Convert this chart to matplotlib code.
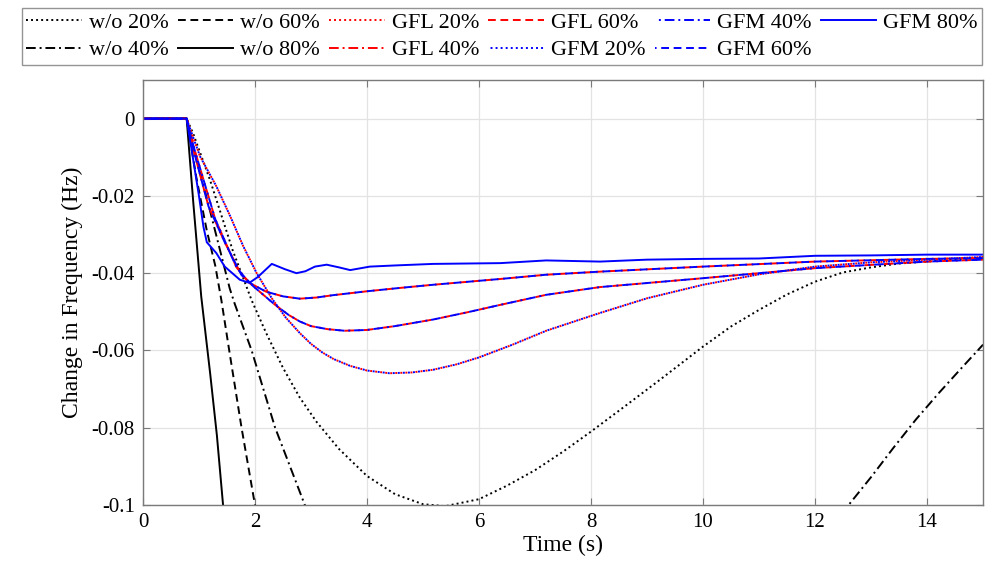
import numpy as np
import matplotlib.pyplot as plt

# time (s) / frequency change (Hz)
t_wo20 = [0, 0.78, 0.9, 1.2, 1.6, 1.94, 2.2, 2.5, 2.8, 3.1, 3.5, 4.0, 4.5, 5.0, 5.4, 6.0, 6.5, 7.0, 7.5, 8.0, 8.6, 9.23, 10.0, 10.5, 11.0, 11.5, 12.0, 12.5, 13.0, 13.5, 14.0, 15.0]
f_wo20 = [0, 0, -0.004, -0.016, -0.034, -0.047, -0.0555, -0.0645, -0.0722, -0.0785, -0.0855, -0.0925, -0.0972, -0.0998, -0.1003, -0.0985, -0.095, -0.091, -0.0862, -0.081, -0.0745, -0.0676, -0.059, -0.0538, -0.0495, -0.0455, -0.0422, -0.0398, -0.0385, -0.0375, -0.037, -0.036]

t_wo40 = [0, 0.78, 1.0, 1.2, 1.34, 1.55, 1.64, 1.94, 2.36, 2.89, 3.5, 4.5, 6.0, 8.0, 10.0, 11.5, 12.0, 12.6, 13.0, 13.4, 13.8, 14.2, 14.6, 15.0]
f_wo40 = [0, 0, -0.013, -0.024, -0.032, -0.044, -0.048, -0.060, -0.080, -0.100, -0.118, -0.135, -0.145, -0.142, -0.130, -0.115, -0.1085, -0.100, -0.0928, -0.0852, -0.0779, -0.0712, -0.0648, -0.0585]

t_wo60 = [0, 0.78, 0.95, 1.14, 1.29, 1.40, 1.54, 1.76, 2.0, 2.2]
f_wo60 = [0, 0, -0.015, -0.029, -0.038, -0.047, -0.060, -0.080, -0.100, -0.115]

t_wo80 = [0, 0.78, 0.9, 1.04, 1.2, 1.32, 1.43, 1.55]
f_wo80 = [0, 0, -0.022, -0.046, -0.066, -0.082, -0.100, -0.118]

t_gf20 = [0, 0.78, 0.9, 1.02, 1.31, 1.55, 1.79, 2.03, 2.3, 2.55, 2.8, 3.0, 3.2, 3.4, 3.7, 4.0, 4.4, 4.8, 5.18, 5.6, 6.0, 6.6, 7.2, 8.16, 9.0, 10.0, 11.0, 12.0, 13.0, 14.0, 15.0]
f_gf20 = [0, 0, -0.005, -0.0098, -0.0175, -0.025, -0.033, -0.040, -0.0465, -0.0515, -0.0555, -0.0583, -0.0605, -0.0622, -0.064, -0.0652, -0.0659, -0.0657, -0.065, -0.0636, -0.0618, -0.0585, -0.0549, -0.0503, -0.0465, -0.043, -0.0403, -0.0383, -0.0372, -0.0365, -0.0358]

t_gf40 = [0, 0.78, 0.9, 1.29, 1.67, 1.9, 2.06, 2.36, 2.6, 2.8, 3.0, 3.3, 3.6, 4.0, 4.5, 5.18, 5.8, 6.38, 7.2, 8.16, 10.0, 12.0, 14.0, 15.0]
f_gf40 = [0, 0, -0.007, -0.026, -0.0385, -0.0425, -0.0445, -0.0482, -0.0508, -0.0525, -0.0537, -0.0545, -0.0549, -0.0547, -0.0537, -0.052, -0.0501, -0.0482, -0.0456, -0.0436, -0.0413, -0.0387, -0.037, -0.0365]

t_gf60 = [0, 0.78, 0.9, 1.17, 1.46, 1.76, 1.94, 2.2, 2.5, 2.8, 3.1, 3.39, 3.99, 4.6, 5.18, 6.38, 7.2, 8.16, 10.0, 12.0, 14.0, 15.0]
f_gf60 = [0, 0, -0.008, -0.0227, -0.032, -0.0405, -0.0428, -0.0448, -0.046, -0.0466, -0.0463, -0.0457, -0.0447, -0.0438, -0.043, -0.0415, -0.0404, -0.0396, -0.0383, -0.037, -0.0363, -0.0361]

t_gfm80 = [0, 0.78, 1.0, 1.08, 1.14, 1.31, 1.46, 1.73, 1.9, 2.05, 2.3, 2.54, 2.74, 2.9, 3.07, 3.28, 3.5, 3.7, 4.05, 4.5, 5.18, 6.38, 7.2, 8.16, 9.0, 10.0, 11.0, 12.0, 13.0, 14.0, 15.0]
f_gfm80 = [0, 0, -0.02, -0.028, -0.032, -0.0348, -0.0383, -0.0417, -0.0425, -0.041, -0.0376, -0.039, -0.040, -0.0395, -0.0383, -0.0378, -0.0385, -0.0392, -0.0383, -0.038, -0.0376, -0.0374, -0.0367, -0.037, -0.0365, -0.0363, -0.0362, -0.0355, -0.0354, -0.0352, -0.0352]

x_ticks = [0, 2, 4, 6, 8, 10, 12, 14]
y_ticks = [0, -0.02, -0.04, -0.06, -0.08, -0.1]
y_tick_labels = ['0', '-0.02', '-0.04', '-0.06', '-0.08', '-0.1']

plt.rcParams['font.family'] = ['Liberation Serif', 'DejaVu Serif']

fig = plt.figure(figsize=(9.97, 5.76), dpi=100)
ax = fig.add_axes([0.1434, 0.1233, 0.8426, 0.7378])

lw = 1.4
dotted = (0, (1, 1.6))
dashdot = (0, (5, 2, 1, 2))
dashed = (0, (4, 2.4))
# blue copies get a shifted dash phase so the red line under them still shows
dotted_b = (1.3, (1, 1.6))
dashdot_b = (5, (5, 2, 1, 2))
dashed_b = (3.2, (4, 2.4))

series = [
    (t_wo20, f_wo20, 'k', dotted, 'w/o 20%'),
    (t_wo40, f_wo40, 'k', dashdot, 'w/o 40%'),
    (t_wo60, f_wo60, 'k', dashed, 'w/o 60%'),
    (t_wo80, f_wo80, 'k', '-', 'w/o 80%'),
    (t_gf20, f_gf20, '#ff0000', dotted, 'GFL 20%'),
    (t_gf40, f_gf40, '#ff0000', dashdot, 'GFL 40%'),
    (t_gf60, f_gf60, '#ff0000', dashed, 'GFL 60%'),
    (t_gf20, f_gf20, '#0000ff', dotted_b, 'GFM 20%'),
    (t_gf40, f_gf40, '#0000ff', dashdot_b, 'GFM 40%'),
    (t_gf60, f_gf60, '#0000ff', dashed_b, 'GFM 60%'),
    (t_gfm80, f_gfm80, '#0000ff', '-', 'GFM 80%'),
]
for t, f, c, ls, lab in series:
    ax.plot(t, f, color=c, linestyle=ls, linewidth=lw, label=lab)

ax.set_xlim(0, 15)
ax.set_ylim(-0.1, 0.01)
ax.set_xticks(x_ticks)
ax.set_yticks(y_ticks)
ax.set_yticklabels(y_tick_labels)
ax.grid(True, color='#e3e3e3', linewidth=0.9)
ax.set_axisbelow(True)
for s in ax.spines.values():
    s.set_color('#7a7a7a')
    s.set_linewidth(1.0)
ax.tick_params(direction='in', length=5, color='#7a7a7a', labelsize=15,
               top=True, right=True, pad=6)
ax.set_xlabel('Time (s)', fontsize=17, labelpad=2)
ax.set_ylabel('Change in Frequency (Hz)', fontsize=17, labelpad=6)

leg = ax.legend(loc='upper left', bbox_to_anchor=(0.022, 0.889, 0.963, 0.097),
                bbox_transform=fig.transFigure, mode='expand', ncol=6,
                borderaxespad=0, fontsize=16, handlelength=2.5, handletextpad=0.3,
                fancybox=False, frameon=True, borderpad=0.2, labelspacing=0.3)
leg.get_frame().set_edgecolor('#7a7a7a')
leg.get_frame().set_linewidth(1.0)

fig.savefig('out.png', dpi=100)
